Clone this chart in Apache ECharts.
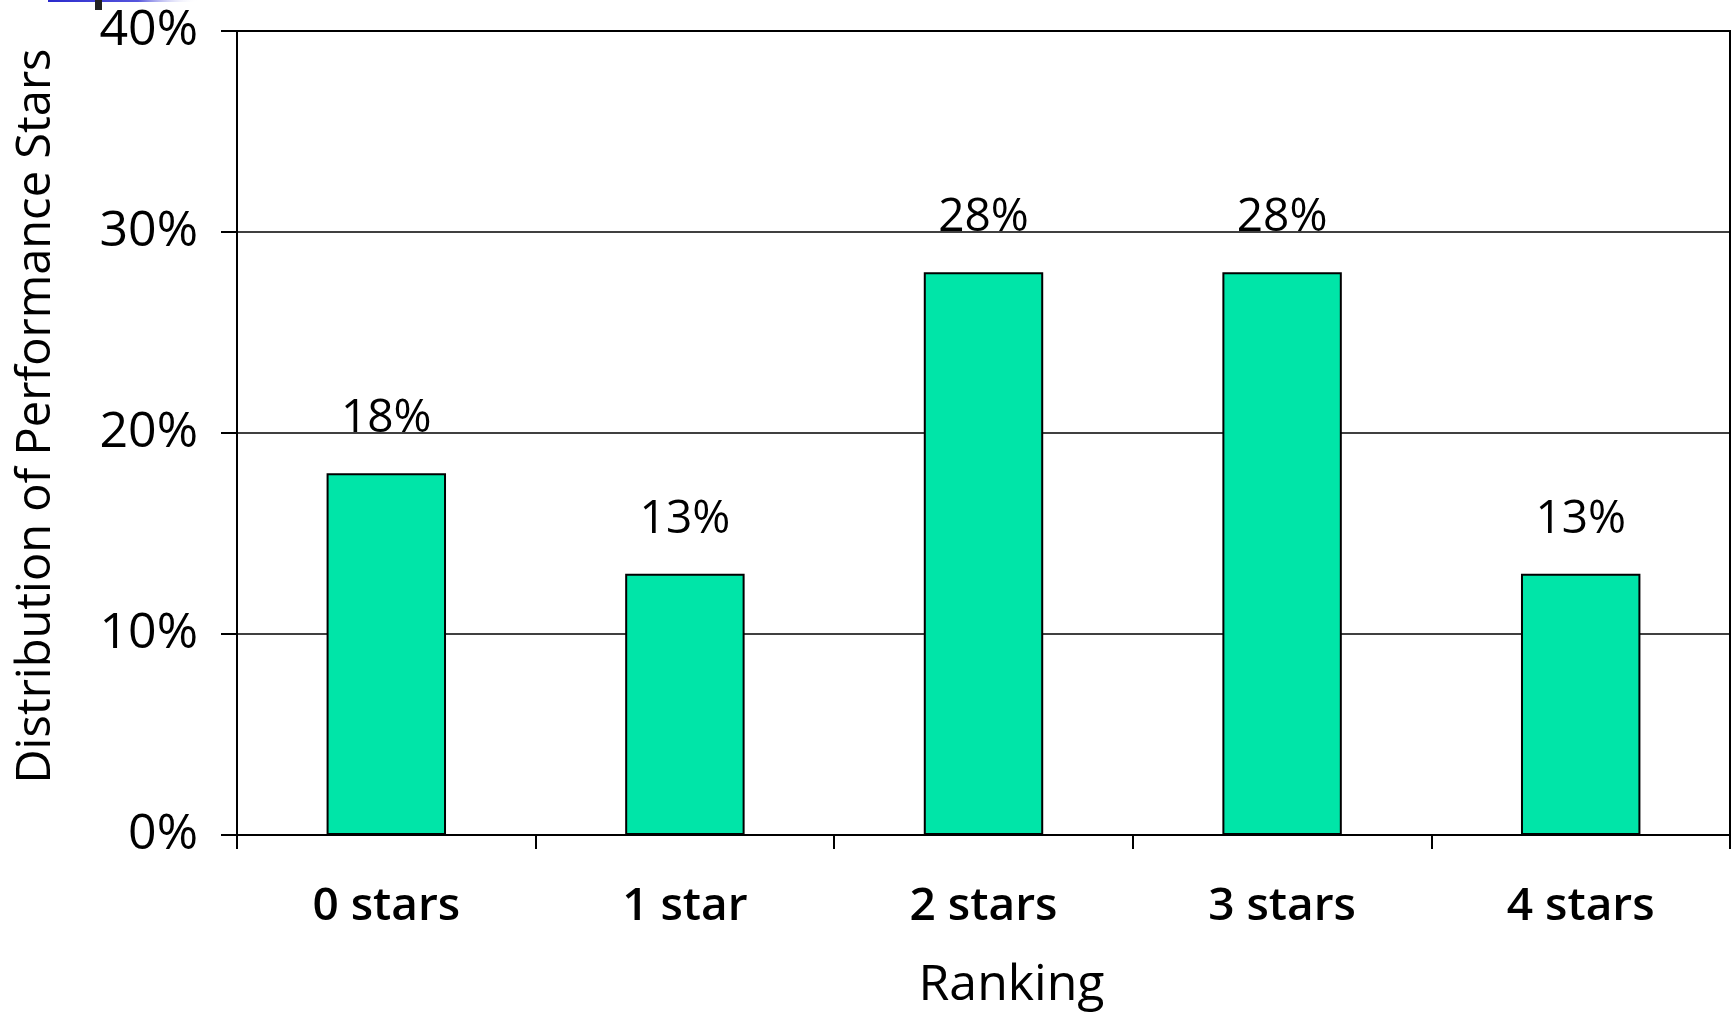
<!DOCTYPE html>
<html>
<head>
<meta charset="utf-8">
<script src="https://cdn.jsdelivr.net/npm/echarts@6/dist/echarts.min.js"></script>
<style>
  html, body { margin: 0; padding: 0; background: #fff; }
  #chart { width: 1733px; height: 1013px; }
</style>
</head>
<body>
<div id="chart"></div>
<script>
// data
const categories = ['0 stars', '1 star', '2 stars', '3 stars', '4 stars'];
const shares = [18, 13, 28, 28, 13];
const yTicks = [0, 10, 20, 30, 40];

const FONT = '"Open Sans", "DejaVu Sans", sans-serif';

const chart = echarts.init(document.getElementById('chart'));
const option = {
  backgroundColor: '#fff',
  animation: false,
  grid: {
    left: 237,
    right: 3,
    top: 31,
    bottom: 178,
    outerBoundsMode: 'none',
    containLabel: false,
    show: true,
    borderColor: '#000',
    borderWidth: 2,
    backgroundColor: 'transparent'
  },
  xAxis: {
    type: 'category',
    data: categories,
    name: 'Ranking',
    nameLocation: 'middle',
    nameGap: 126,
    nameTextStyle: { fontFamily: FONT, fontSize: 50, color: '#000', padding: [0, 0, 0, 56] },
    axisLine: { lineStyle: { color: '#000', width: 2 } },
    axisTick: { show: true, length: 14, lineStyle: { color: '#000', width: 2 } },
    axisLabel: {
      margin: 49,
      fontFamily: FONT,
      fontSize: 46,
      fontWeight: 600,
      color: '#000'
    }
  },
  yAxis: {
    type: 'value',
    min: yTicks[0],
    max: yTicks[yTicks.length - 1],
    interval: 10,
    name: 'Distribution of Performance Stars',
    nameLocation: 'middle',
    nameGap: 177,
    nameRotate: 90,
    nameTextStyle: { fontFamily: FONT, fontSize: 47, color: '#000', padding: [0, 0, 0, 34] },
    axisLine: { show: true, lineStyle: { color: '#000', width: 2 } },
    axisTick: { show: true, length: 16, lineStyle: { color: '#000', width: 2 } },
    axisLabel: {
      margin: 39,
      fontFamily: FONT,
      fontSize: 50,
      color: '#000',
      formatter: '{value}%'
    },
    splitLine: { show: true, lineStyle: { color: '#000', width: 1.5 } }
  },
  series: [
    {
      type: 'bar',
      data: shares,
      barWidth: '40%',
      itemStyle: {
        color: '#00E5A8',
        borderColor: '#000',
        borderWidth: 2
      },
      label: {
        show: true,
        position: 'top',
        distance: 31,
        fontFamily: FONT,
        fontSize: 46,
        color: '#000',
        formatter: '{c}%'
      }
    }
  ],
  graphic: [
    {
      type: 'rect',
      shape: { x: 48, y: 0, width: 150, height: 2 },
      style: {
        fill: new echarts.graphic.LinearGradient(0, 0, 1, 0, [
          { offset: 0, color: '#2a2acc' },
          { offset: 0.6, color: '#5555dd' },
          { offset: 1, color: 'rgba(255,255,255,0)' }
        ])
      }
    },
    {
      type: 'rect',
      shape: { x: 95, y: 0, width: 7, height: 10 },
      style: { fill: '#222' }
    }
  ]
};
chart.setOption(option);
</script>
</body>
</html>
